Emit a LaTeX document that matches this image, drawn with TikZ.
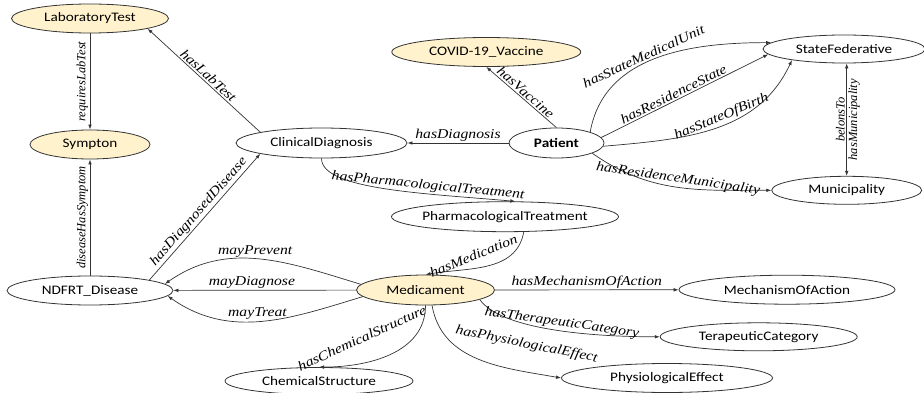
\documentclass[tikz,border=0pt]{standalone}
\usepackage{fontspec}
\newfontfamily\clsfont{Carlito}[FakeStretch=1.17]
\newfontfamily\relfont{Liberation Serif}[FakeStretch=1.16]
\newfontfamily\vrelfont{Liberation Serif}
\usetikzlibrary{arrows.meta,shapes.geometric}
\definecolor{keyfill}{RGB}{255,242,204}
\tikzset{
  cls/.style={draw=black!80, ellipse, line width=0.8pt, inner xsep=-12pt, inner ysep=0pt,
              minimum height=29pt, font=\clsfont\fontsize{13}{15}\selectfont},
  key/.style={cls, fill=keyfill},
  arrow/.style={->, >={Latex[length=5pt,width=3.6pt]}, line width=0.7pt, black!80},
  rel/.style={font=\relfont\itshape\fontsize{13.5}{15}\selectfont, inner sep=1.5pt, text=black},
  vrel/.style={font=\vrelfont\itshape\fontsize{12.5}{14}\selectfont, inner sep=1.5pt,
               rotate=90, text=black},
}
\begin{document}
\begin{tikzpicture}[x=1pt, y=1pt]
  \useasboundingbox (0,0) rectangle (924,392);
  % classes
  \node[key, minimum width=157pt] (lab) at (90,373.5) {LaboratoryTest};
  \node[key, minimum width=120pt] (sym) at (90,247.5) {Sympton};
  \node[cls, minimum width=166pt] (ndf) at (90,101.5) {NDFRT\_Disease};
  \node[cls, minimum width=171pt, minimum height=30pt] (cdx) at (321.5,249) {ClinicalDiagnosis};
  \node[key, minimum width=189pt] (vac) at (486.3,340) {COVID-19\_Vaccine};
  \node[cls, minimum width=95pt, minimum height=30pt] (pat) at (556.5,249) {\bfseries Patient};
  \node[cls, minimum width=162pt, minimum height=28pt] (sfd) at (844,343) {StateFederative};
  \node[cls, minimum width=150pt, minimum height=28pt] (mun) at (846.7,201.7) {Municipality};
  \node[cls, minimum width=227pt, minimum height=30pt] (phr) at (505,175.3) {PharmacologicalTreatment};
  \node[key, minimum width=138pt, minimum height=30pt] (med) at (425.5,102) {Medicament};
  \node[cls, minimum width=216pt] (moa) at (787,102.3) {MechanismOfAction};
  \node[cls, minimum width=197pt, minimum height=28pt] (tcat) at (758.7,55.2) {TerapeuticCategory};
  \node[cls, minimum width=211pt] (phy) at (667,14) {PhysiologicalEffect};
  \node[cls, minimum width=188pt, minimum height=27pt] (chs) at (319,11) {ChemicalStructure};

  % relations
  \draw[arrow] (lab) -- node[vrel, anchor=south] {requiresLabTest} (sym);
  \draw[arrow] (ndf) -- node[vrel, anchor=south] {diseaseHasSymptom} (sym);
  \draw[arrow] (cdx.170) -- node[rel, above, sloped] {hasLabTest} (lab.-10);
  \draw[arrow] (ndf.10) -- node[rel, above, sloped] {hasDiagnosedDisease} (cdx.190);
  \draw[arrow] (pat) -- node[rel, above] {hasDiagnosis} (cdx);
  \draw[arrow] (pat.north) -- node[rel, above, sloped] {hasVaccine} (vac.south);
  \draw[arrow] (pat.18) to[out=80, in=180] node[rel, above, sloped, pos=0.45] {hasStateMedicalUnit} (sfd.175);
  \draw[arrow] (pat.7) -- node[rel, above, sloped, pos=0.45] {hasResidenceState} (sfd.184);
  \draw[arrow] (pat.-4) to[out=5, in=245] node[rel, above, sloped, pos=0.55] {hasStateOfBirth} (sfd.192);
  \draw[arrow] (pat.-16) to[out=-35, in=180] node[rel, above, sloped] {hasResidenceMunicipality} (mun.west);
  \draw[arrow, <->] (mun.north) -- node[vrel, anchor=south] {belonsTo}
    node[vrel, anchor=north] {hasMunicipality} (mun.north |- sfd.south);
  \draw[arrow] (cdx.south) to[out=-90, in=175, out looseness=0.4, in looseness=1.2]
    node[rel, above, sloped, pos=0.68] {hasPharmacologicalTreatment} (phr.56);
  \draw[arrow] (phr.-39) to[out=-100, in=10]
    node[rel, above=7pt, sloped, xshift=-10pt, rotate=8, pos=0.5] {hasMedication} (med.north);
  \draw[arrow] (med.175) to[out=163, in=35] node[rel, above, pos=0.52] {mayPrevent} (ndf.5);
  \draw[arrow] (med) -- node[rel, above, pos=0.57] {mayDiagnose} (ndf);
  \draw[arrow] (med.186) to[out=197, in=-35] node[rel, above, pos=0.52] {mayTreat} (ndf.-4);
  \draw[arrow] (med) -- node[rel, above] {hasMechanismOfAction} (moa);
  \draw[arrow] (med.-10) to[out=-55, in=180, out looseness=0.5]
    node[rel, above, sloped, pos=0.55] {hasTherapeuticCategory} (tcat.west);
  \draw[arrow] (med.-67) to[out=-80, in=170]
    node[rel, above=19pt, sloped, xshift=3pt, pos=0.75] {hasPhysiologicalEffect} (phy.west);
  \draw[arrow] (med.south) to[out=-90, in=0]
    node[rel, above=20pt, sloped, xshift=-19pt, pos=0.5] {hasChemicalStructure} (chs.north);
\end{tikzpicture}
\end{document}
